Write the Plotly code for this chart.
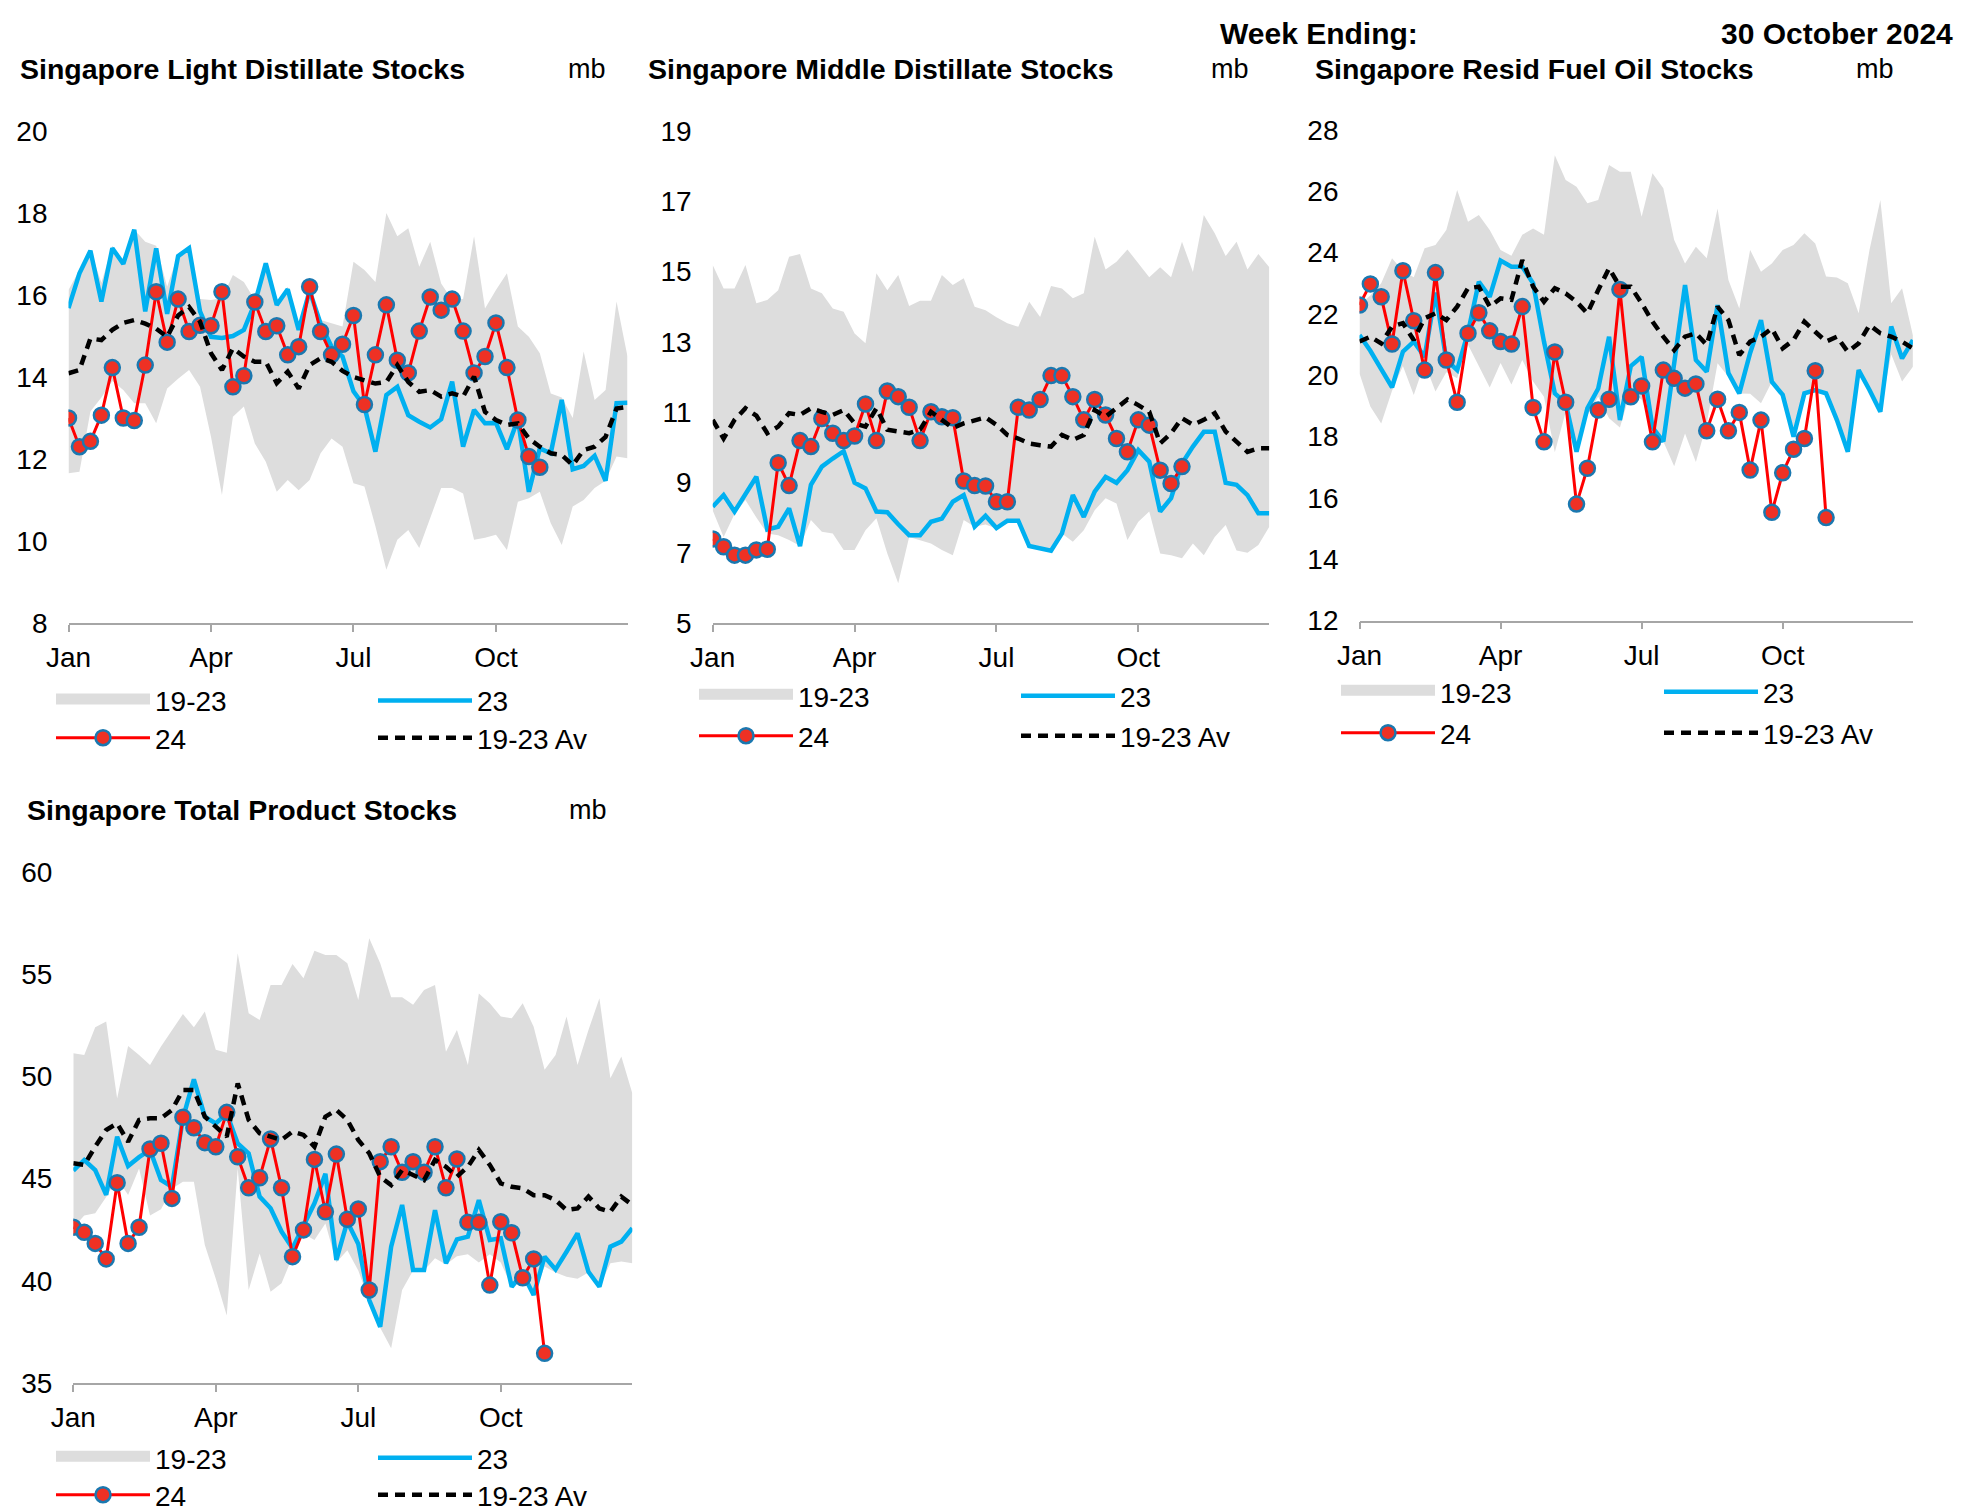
import plotly.graph_objects as go

# ---------------- data ----------------
weeks = list(range(52))
month_ticks = [0, 13, 26, 39]
month_labels = ["Jan", "Apr", "Jul", "Oct"]

# Light distillates (mb)
ld_hi = [16.12, 16.6, 17.1, 16.3, 17.2, 16.8, 17.6, 17.3, 17.2, 16.2, 17.0, 17.2, 15.9, 15.88, 15.92, 16.49,
         16.32, 15.88, 16.8, 15.8, 16.2, 15.2, 16.15, 15.39, 15.31, 15.23, 16.81, 16.61, 16.32, 18.0, 17.43,
         17.63, 16.69, 17.3, 16.28, 15.88, 15.9, 17.43, 15.67, 16.12, 16.53, 15.23, 14.98, 14.58, 13.6, 13.5,
         13.0, 14.62, 13.44, 13.68, 15.84, 14.5]
ld_lo = [11.65, 11.69, 13.16, 13.5, 13.9, 13.68, 13.36, 13.36, 12.87, 13.72, 13.96, 14.17, 13.76, 12.54, 11.12,
         13.03, 13.28, 12.38, 11.93, 11.2, 11.49, 11.24, 11.49, 12.14, 12.5, 12.3, 11.41, 11.33, 10.36, 9.3,
         10.03, 10.27, 9.83, 10.56, 11.29, 11.29, 11.16, 10.03, 10.08, 10.15, 9.78, 10.96, 11.04, 11.2, 10.43,
         9.9, 10.84, 11.0, 11.29, 11.47, 12.06, 12.02]
ld_23 = [15.68, 16.53, 17.08, 15.84, 17.14, 16.76, 17.59, 15.6, 17.14, 15.54, 16.95, 17.14, 15.6, 14.98, 14.95,
         15.0, 15.15, 15.8, 16.77, 15.76, 16.14, 15.15, 16.1, 15.3, 14.74, 14.5, 13.65, 13.28, 12.18, 13.56,
         13.76, 13.07, 12.91, 12.77, 12.97, 13.89, 12.3, 13.2, 12.87, 12.88, 12.24, 12.97, 11.2, 12.26, 12.14,
         13.44, 11.75, 11.83, 12.08, 11.47, 13.36, 13.37]
ld_24 = [13.0, 12.3, 12.43, 13.07, 14.23, 13.0, 12.94, 14.29, 16.08, 14.85, 15.9, 15.11, 15.26, 15.25, 16.08,
         13.76, 14.03, 15.83, 15.11, 15.25, 14.54, 14.74, 16.2, 15.11, 14.54, 14.8, 15.5, 13.33, 14.54, 15.76,
         14.41, 14.1, 15.12, 15.95, 15.63, 15.9, 15.12, 14.1, 14.5, 15.32, 14.23, 12.95, 12.06, 11.8]
ld_av = [14.09, 14.17, 14.94, 14.9, 15.15, 15.32, 15.39, 15.3, 15.18, 14.98, 15.5, 15.71, 15.35, 14.58, 14.17,
         14.7, 14.5, 14.37, 14.37, 13.85, 14.13, 13.72, 14.29, 14.46, 14.37, 14.15, 14.0, 13.92, 13.84, 13.88,
         14.29, 13.88, 13.64, 13.68, 13.52, 13.6, 13.52, 14.01, 13.15, 12.95, 12.83, 12.87, 12.5, 12.3, 12.14,
         12.1, 11.85, 12.22, 12.3, 12.54, 13.23, 13.27]

# Middle distillates (mb)
md_hi = [15.19, 14.52, 14.52, 15.19, 14.1, 14.19, 14.47, 15.42, 15.5, 14.52, 14.38, 13.95, 13.86, 13.24, 12.96,
         14.95, 14.47, 14.9, 14.02, 14.17, 14.17, 14.9, 14.62, 14.81, 14.0, 13.9, 13.7, 13.53, 13.43, 14.14,
         13.71, 14.59, 14.52, 14.24, 14.38, 15.99, 15.06, 15.28, 15.63, 15.25, 14.84, 15.12, 14.84, 15.85,
         14.99, 16.61, 16.09, 15.44, 15.85, 15.06, 15.5, 15.12]
md_lo = [8.2, 7.45, 8.1, 8.5, 8.0, 7.55, 7.5, 7.36, 7.19, 7.93, 7.6, 7.55, 7.08, 7.08, 7.64, 7.98, 6.98, 6.13,
         7.45, 7.36, 7.26, 7.08, 6.93, 7.93, 7.74, 7.8, 7.69, 7.83, 7.91, 7.19, 7.13, 7.06, 7.55, 7.31, 7.64,
         8.21, 8.55, 8.4, 7.36, 7.88, 8.17, 6.98, 6.93, 6.84, 7.26, 6.93, 7.45, 7.79, 7.06, 7.0, 7.22, 7.74]
md_23 = [8.31, 8.64, 8.17, 8.66, 9.16, 7.66, 7.74, 8.26, 7.19, 8.93, 9.45, 9.68, 9.89, 8.99, 8.83, 8.17, 8.15,
         7.81, 7.5, 7.5, 7.88, 7.97, 8.45, 8.64, 7.74, 8.05, 7.7, 7.91, 7.91, 7.19, 7.13, 7.06, 7.55, 8.64,
         8.02, 8.74, 9.16, 8.99, 9.35, 9.92, 9.59, 8.17, 8.55, 9.54, 10.02, 10.44, 10.44, 8.99, 8.93, 8.64,
         8.12, 8.12]
md_24 = [7.39, 7.17, 6.93, 6.93, 7.08, 7.1, 9.56, 8.91, 10.19, 10.02, 10.82, 10.4, 10.19, 10.32, 11.23, 10.19,
         11.6, 11.44, 11.14, 10.19, 11.01, 10.87, 10.84, 9.04, 8.91, 8.9, 8.45, 8.45, 11.14, 11.06, 11.36,
         12.04, 12.04, 11.44, 10.78, 11.36, 10.92, 10.25, 9.87, 10.78, 10.63, 9.35, 8.97, 9.45]
md_av = [10.78, 10.25, 10.78, 11.11, 10.9, 10.4, 10.59, 10.97, 10.92, 11.11, 11.01, 10.92, 11.06, 10.68, 10.59,
         11.11, 10.5, 10.45, 10.4, 10.5, 11.01, 10.78, 10.55, 10.68, 10.78, 10.85, 10.64, 10.35, 10.25, 10.11,
         10.06, 10.02, 10.35, 10.21, 10.35, 11.06, 10.87, 11.11, 11.36, 11.2, 11.01, 10.11, 10.4, 10.83, 10.64,
         10.78, 10.97, 10.45, 10.16, 9.87, 9.97, 9.97]

# Residual fuel oil (mb)
fo_hi = [22.3, 22.6, 23.0, 23.82, 23.4, 23.2, 24.14, 24.25, 24.74, 26.04, 25.01, 25.23, 24.74, 24.09, 23.9,
         24.58, 24.79, 24.58, 27.18, 26.37, 26.15, 25.61, 25.72, 26.86, 26.64, 26.64, 25.17, 26.59, 26.1,
         24.41, 23.65, 24.19, 23.82, 25.44, 23.11, 22.18, 24.09, 23.38, 23.65, 24.09, 24.25, 24.63, 24.3,
         23.22, 23.19, 23.0, 22.02, 24.09, 25.72, 22.35, 22.84, 21.31]
fo_lo = [20.06, 18.98, 18.43, 19.5, 20.3, 19.36, 20.4, 19.47, 20.1, 19.9, 21.0, 20.3, 19.6, 20.4, 19.7, 20.5,
         19.8, 19.3, 17.49, 18.8, 17.5, 18.7, 19.3, 18.6, 18.3, 19.5, 19.2, 18.3, 17.84, 17.03, 18.1, 17.17,
         18.43, 20.39, 19.95, 19.41, 19.4, 19.09, 19.79, 19.36, 18.0, 19.41, 19.5, 19.41, 18.54, 17.51, 20.1,
         19.5, 18.81, 20.69, 19.8, 20.28]
fo_23 = [21.31, 20.8, 20.2, 19.61, 20.77, 21.1, 20.6, 22.7, 20.5, 20.17, 21.4, 23.05, 22.56, 23.74, 23.54,
         23.54, 23.0, 21.1, 19.41, 19.09, 17.51, 18.92, 19.57, 21.26, 18.54, 20.3, 20.6, 18.3, 17.84, 20.4,
         22.94, 20.5, 20.12, 22.29, 20.07, 19.41, 20.73, 21.8, 19.79, 19.36, 18.0, 19.41, 19.52, 19.41, 18.54,
         17.51, 20.17, 19.52, 18.81, 21.59, 20.55, 21.15]
fo_24 = [22.29, 22.98, 22.56, 21.02, 23.41, 21.78, 20.17, 23.35, 20.5, 19.12, 21.37, 22.04, 21.45, 21.1, 21.02,
         22.24, 18.95, 17.83, 20.76, 19.12, 15.8, 16.97, 18.87, 19.22, 22.8, 19.3, 19.65, 17.83, 20.17, 19.9,
         19.58, 19.72, 18.19, 19.22, 18.19, 18.79, 16.91, 18.54, 15.53, 16.82, 17.59, 17.94, 20.15, 15.36]
fo_av = [21.1, 21.26, 21.04, 21.59, 21.7, 21.15, 21.86, 22.02, 21.8, 22.24, 22.84, 22.89, 22.24, 22.51, 22.46,
         23.76, 22.89, 22.4, 22.84, 22.67, 22.4, 22.02, 22.78, 23.49, 22.89, 22.89, 22.35, 21.75, 21.26, 20.82,
         21.26, 21.37, 20.99, 22.24, 21.8, 20.66, 21.1, 21.26, 21.53, 20.88, 21.15, 21.75, 21.42, 21.1, 21.26,
         20.77, 21.04, 21.64, 21.37, 21.26, 21.1, 20.88]

# Total products (mb)
tp_hi = [51.13, 51.05, 52.4, 52.68, 48.92, 51.49, 51.05, 50.56, 51.46, 52.27, 53.05, 52.4, 53.17, 51.3, 51.16,
         56.02, 53.09, 52.76, 54.47, 54.47, 55.5, 54.8, 56.15, 55.94, 55.94, 55.53, 53.74, 56.76, 55.53, 53.87,
         53.87, 53.5, 54.23, 54.47, 51.21, 52.27, 50.56, 54.06, 53.58, 52.93, 52.84, 53.58, 52.43, 50.32, 51.05,
         52.93, 50.56, 52.27, 53.82, 49.91, 50.97, 49.17]
tp_lo = [42.6, 43.2, 43.3, 44.1, 45.0, 44.2, 45.5, 43.2, 43.5, 44.5, 44.85, 44.85, 41.75, 40.1, 38.3, 45.5,
         39.55, 41.34, 39.47, 39.88, 41.18, 42.3, 42.0, 42.8, 40.9, 41.5, 40.5, 39.0, 37.7, 36.7, 39.55, 40.5,
         40.5, 41.1, 40.8, 41.2, 41.3, 40.9, 41.3, 40.9, 39.7, 40.3, 39.3, 40.7, 40.4, 40.2, 40.1, 40.4, 39.7,
         40.86, 40.94, 40.86]
tp_23 = [45.39, 45.91, 45.42, 44.2, 47.05, 45.62, 46.05, 46.4, 44.93, 44.6, 47.95, 49.86, 48.03, 47.7, 48.19,
         46.72, 46.23, 44.12, 43.55, 42.41, 41.59, 42.65, 43.79, 45.23, 41.02, 42.89, 41.8, 39.06, 37.75, 41.67,
         43.71, 40.53, 40.53, 43.46, 40.86, 42.03, 42.16, 43.95, 42.0, 42.08, 39.71, 40.36, 39.31, 41.18, 40.56,
         41.42, 42.32, 40.44, 39.71, 41.67, 41.92, 42.57]
tp_24 = [42.62, 42.37, 41.83, 41.07, 44.8, 41.83, 42.62, 46.45, 46.73, 44.03, 48.0, 47.49, 46.76, 46.56, 48.24,
         46.07, 44.55, 45.04, 46.94, 44.55, 41.18, 42.49, 45.94, 43.38, 46.2, 43.01, 43.51, 39.55, 45.83, 46.56,
         45.31, 45.83, 45.31, 46.56, 44.55, 45.96, 42.86, 42.86, 39.79, 42.89, 42.35, 40.15, 41.07, 36.45]
tp_av = [45.75, 45.67, 46.56, 47.38, 47.7, 46.8, 47.87, 47.95, 47.95, 48.36, 49.33, 49.33, 48.03, 47.54, 47.05,
         49.66, 47.87, 47.22, 47.05, 46.89, 47.3, 47.14, 46.56, 48.03, 48.36, 47.87, 46.89, 46.24, 45.09, 44.68,
         45.42, 45.17, 44.93, 45.91, 45.58, 45.09, 45.58, 46.4, 45.67, 44.77, 44.6, 44.52, 44.19, 44.19, 43.95,
         43.46, 43.54, 44.12, 43.54, 43.38, 44.12, 43.71]

titles = ["Singapore Light Distillate Stocks", "Singapore Middle Distillate Stocks",
          "Singapore Resid Fuel Oil Stocks", "Singapore Total Product Stocks"]
series_names = ["19-23", "23", "24", "19-23 Av"]

# ---------------- layout geometry (page pixels) ----------------
W, H = 1962, 1511
FONT = "Liberation Sans, Arial, sans-serif"
GRAY = "#DDDDDD"
BLUE = "#00B0F0"
RED = "#FF0000"
AXC = "#A6A6A6"


def fx(p):
    return p / W


def fy(p):
    return 1 - p / H


panels = [
    dict(data=(ld_hi, ld_lo, ld_23, ld_24, ld_av), box=(68.5, 627.5, 131, 623), yr=(8, 20), dt=2,
         title=(17.5, 69), mb=587, leg=(51, 373, 700.7, 738)),
    dict(data=(md_hi, md_lo, md_23, md_24, md_av), box=(712.7, 1269.3, 131, 623), yr=(5, 19), dt=2,
         title=(645.7, 69), mb=1230, leg=(694, 1016, 696, 736)),
    dict(data=(fo_hi, fo_lo, fo_23, fo_24, fo_av), box=(1359.5, 1912.9, 130, 620.6), yr=(12, 28), dt=2,
         title=(1312.6, 69), mb=1875, leg=(1336, 1659, 692, 733)),
    dict(data=(tp_hi, tp_lo, tp_23, tp_24, tp_av), box=(73.3, 632.3, 872, 1383), yr=(35, 60), dt=5,
         title=(25, 809.6), mb=588, leg=(51, 373, 1458, 1495)),
]

fig = go.Figure()
layout = {}
annotations = []
leg_n = 0

for k, p in enumerate(panels, start=1):
    hi, lo, y23, y24, av = p["data"]
    xa = "x" if k == 1 else f"x{k}"
    ya = "y" if k == 1 else f"y{k}"
    x0, x1, y0, y1 = p["box"]
    lx1, lx2, ly1, ly2 = p["leg"]
    legs = []
    for (lx, ly) in [(lx1, ly1), (lx2, ly1), (lx1, ly2), (lx2, ly2)]:
        leg_n += 1
        name = "legend" if leg_n == 1 else f"legend{leg_n}"
        legs.append(name)
        layout[name] = dict(x=fx(lx), y=fy(ly), xanchor="left", yanchor="middle",
                            bgcolor="rgba(0,0,0,0)", borderwidth=0, itemwidth=94,
                            font=dict(family=FONT, size=28, color="black"),
                            tracegroupgap=0, itemclick=False, itemdoubleclick=False)

    # band: lower edge (invisible) then upper edge filled to it
    fig.add_trace(go.Scatter(x=weeks, y=lo, xaxis=xa, yaxis=ya, mode="lines",
                             line=dict(width=0, color=GRAY), showlegend=False, hoverinfo="skip"))
    fig.add_trace(go.Scatter(x=weeks, y=hi, xaxis=xa, yaxis=ya, mode="lines", fill="tonexty",
                             fillcolor=GRAY, line=dict(width=0, color=GRAY), showlegend=False,
                             name=series_names[0]))
    # legend entry for the band
    fig.add_trace(go.Scatter(x=[None], y=[None], xaxis=xa, yaxis=ya, mode="lines", fill="toself",
                             fillcolor=GRAY, line=dict(width=10, color=GRAY),
                             name=series_names[0], legend=legs[0]))
    fig.add_trace(go.Scatter(x=weeks, y=y23, xaxis=xa, yaxis=ya, mode="lines",
                             line=dict(width=4.5, color=BLUE), name=series_names[1], legend=legs[1]))
    fig.add_trace(go.Scatter(x=weeks[:len(y24)], y=y24, xaxis=xa, yaxis=ya, mode="lines+markers",
                             line=dict(width=3, color=RED),
                             marker=dict(size=15, color="#EE3124", line=dict(width=2.5, color="#1A78B0")),
                             name=series_names[2], legend=legs[2]))
    fig.add_trace(go.Scatter(x=weeks, y=av, xaxis=xa, yaxis=ya, mode="lines",
                             line=dict(width=4.5, color="black", dash="10px,7px"),
                             name=series_names[3], legend=legs[3]))

    xkey = "xaxis" if k == 1 else f"xaxis{k}"
    ykey = "yaxis" if k == 1 else f"yaxis{k}"
    layout[xkey] = dict(domain=[fx(x0), fx(x1)], anchor=ya, range=[0, 51], showgrid=False,
                        zeroline=False, showline=True, linecolor=AXC, linewidth=1.5,
                        ticks="outside", ticklen=7, tickwidth=1.5, tickcolor=AXC,
                        tickvals=month_ticks, ticktext=month_labels, ticklabelstandoff=2,
                        tickfont=dict(family=FONT, size=28, color="black"), fixedrange=True,
                        automargin=False)
    layout[ykey] = dict(domain=[fy(y1), fy(y0)], anchor=xa, range=list(p["yr"]), dtick=p["dt"],
                        tick0=p["yr"][0], showgrid=False, zeroline=False, showline=False, ticks="",
                        ticklabelstandoff=20, tickfont=dict(family=FONT, size=28, color="black"),
                        fixedrange=True, automargin=False)

    tx, ty = p["title"]
    annotations.append(dict(text="<b>" + titles[k - 1] + "</b>", x=fx(tx), y=fy(ty), xref="paper",
                            yref="paper", xanchor="left", yanchor="middle", showarrow=False,
                            font=dict(family=FONT, size=28.5, color="black")))
    annotations.append(dict(text="mb", x=fx(p["mb"]), y=fy(ty), xref="paper", yref="paper",
                            xanchor="center", yanchor="middle", showarrow=False,
                            font=dict(family=FONT, size=27, color="black")))

annotations.append(dict(text="<b>Week Ending:</b>", x=fx(1217.5), y=fy(34), xref="paper", yref="paper",
                        xanchor="left", yanchor="middle", showarrow=False,
                        font=dict(family=FONT, size=30, color="black")))
annotations.append(dict(text="<b>30 October 2024</b>", x=fx(1954.5), y=fy(34), xref="paper", yref="paper",
                        xanchor="right", yanchor="middle", showarrow=False,
                        font=dict(family=FONT, size=30, color="black")))

fig.update_layout(width=W, height=H, margin=dict(l=0, r=0, t=0, b=0, pad=0, autoexpand=False),
                  paper_bgcolor="white", plot_bgcolor="white", showlegend=True,
                  annotations=annotations, hovermode=False, **layout)

fig.write_html("out.html", config={"displayModeBar": False},
               post_script="document.body.style.margin='0';document.body.style.overflow='hidden';")
